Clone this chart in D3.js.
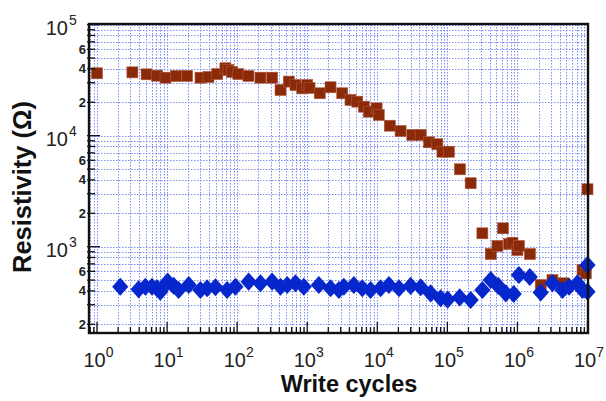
<!DOCTYPE html>
<html><head><meta charset="utf-8">
<script src="https://cdn.jsdelivr.net/npm/d3@7"></script>
<style>html,body{margin:0;padding:0;background:#fff;}svg{display:block;}</style>
</head><body>
<script>
// ---- data ----
const brownCycles = [1, 3.2, 5.1, 7.2, 9.5, 13.4, 19.3, 30, 39, 52, 68, 75, 85, 104, 145, 215, 316, 416, 546, 680, 850, 1000, 1080, 1510, 2150, 3160, 4150, 5180, 6440, 7590, 9780, 10500, 15100, 21500, 31600, 41600, 54600, 71900, 84900, 105000, 151000, 215000, 316000, 416000, 518000, 622000, 759000, 849000, 1000000, 1050000, 1510000, 2150000, 3160000, 4540000, 8490000, 9460000, 10000000];
const brownResist = [36500, 37200, 35700, 34700, 33300, 34500, 34500, 33300, 33800, 35900, 40500, 39000, 37500, 35900, 34500, 33300, 33300, 25800, 30700, 28600, 26700, 28600, 26900, 24100, 27300, 24100, 21000, 20250, 18250, 16450, 17650, 15360, 12300, 11020, 10150, 10150, 8720, 8370, 7170, 7170, 4980, 3730, 1320, 859, 1015, 1465, 1057, 1086, 934, 1015, 859, 452, 501, 468, 617, 575, 3290];
const blueCycles = [2.15, 3.93, 4.9, 6.1, 7.2, 8.0, 8.9, 10.2, 12.4, 14.6, 20.4, 29.9, 37.3, 49, 72, 94.6, 146, 215, 316, 416, 518, 680, 894, 1465, 2154, 2830, 3330, 4630, 6100, 8020, 11150, 14650, 20400, 29900, 41600, 57700, 80200, 101000, 150000, 215000, 316000, 416000, 532000, 681000, 885000, 1050000, 1500000, 2150000, 3160000, 4400000, 5460000, 7200000, 8500000, 10000000, 10000000];
const blueResist = [436, 413, 436, 436, 422, 393, 436, 484, 445, 407, 452, 407, 422, 431, 407, 436, 484, 468, 484, 436, 452, 468, 436, 452, 422, 407, 436, 452, 422, 407, 422, 452, 422, 443, 431, 380, 343, 334, 349, 331, 407, 501, 443, 380, 375, 556, 533, 387, 468, 407, 436, 468, 407, 684, 393];
const xDecades = [0, 1, 2, 3, 4, 5, 6, 7];
const yDecades = [3, 4, 5];
const yMinorLabels = ["6", "4", "2"];
const xTitle = "Write cycles";
const yTitle = "Resistivity (Ω)";

// ---- layout ----
const W = 606, H = 401;
const L = 89, R = 588, T = 24, B = 333;
const svg = d3.select("body").append("svg").attr("width", W).attr("height", H);

const x = d3.scaleLog().domain([Math.pow(10, -0.114), Math.pow(10, 7.007)]).range([L, R]);
const y = d3.scaleLog().domain([Math.pow(10, 2.2225), Math.pow(10, 5.006)]).range([B, T]);

// gridline values: 1..9 * 10^k within domain
const xGrid = [], yGrid = [];
for (let k = -1; k <= 7; k++) for (let m = 1; m <= 9; m++) {
  const v = m * Math.pow(10, k);
  if (v >= x.domain()[0] && v <= x.domain()[1]) xGrid.push({v, major: m === 1});
}
for (let k = 2; k <= 5; k++) for (let m = 1; m <= 9; m++) {
  const v = m * Math.pow(10, k);
  if (v >= y.domain()[0] && v <= y.domain()[1]) yGrid.push({v, major: m === 1, m});
}

const grid = svg.append("g").attr("stroke", "#5f72f0").attr("stroke-width", 1)
  .attr("stroke-dasharray", "1.5,1.5").attr("opacity", 0.8);
grid.selectAll(".gx").data(xGrid).join("line")
  .attr("x1", d => Math.round(x(d.v)) + 0.5).attr("x2", d => Math.round(x(d.v)) + 0.5)
  .attr("y1", T).attr("y2", B);
grid.selectAll(".gy").data(yGrid).join("line")
  .attr("y1", d => Math.round(y(d.v)) + 0.5).attr("y2", d => Math.round(y(d.v)) + 0.5)
  .attr("x1", L).attr("x2", R);

// ---- marks ----
const brown = brownCycles.map((c, i) => ({c, r: brownResist[i]}));
const blue = blueCycles.map((c, i) => ({c, r: blueResist[i]}));

svg.append("g").selectAll("rect").data(brown).join("rect")
  .attr("x", d => x(d.c) - 5.5).attr("y", d => y(d.r) - 5.5)
  .attr("width", 11).attr("height", 11)
  .attr("fill", "#8a2a08").attr("stroke", "#b0583a").attr("stroke-width", 0.6);

const diamond = d3.symbol().type(d3.symbolDiamond).size(95);
svg.append("g").selectAll("path").data(blue).join("path")
  .attr("d", diamond)
  .attr("transform", d => `translate(${x(d.c)},${y(d.r)}) scale(1.55,1)`)
  .attr("fill", "#0627cc");

// ---- ticks ----
const ticks = svg.append("g").attr("stroke", "#111").attr("stroke-width", 1.3);
ticks.selectAll(".tx").data(xGrid).join("line")
  .attr("x1", d => x(d.v)).attr("x2", d => x(d.v))
  .attr("y1", B).attr("y2", d => B - (d.major ? 11 : 6));
ticks.selectAll(".ty").data(yGrid).join("line")
  .attr("y1", d => y(d.v)).attr("y2", d => y(d.v))
  .attr("x1", L - 2).attr("x2", d => L + (d.major ? 11 : 6));

// frame
svg.append("rect").attr("x", L).attr("y", T).attr("width", R - L).attr("height", B - T)
  .attr("fill", "none").attr("stroke", "#111").attr("stroke-width", 2.4);

// ---- tick labels ----
const font = "'Liberation Sans', Arial, Helvetica, sans-serif";
const xl = svg.append("g").attr("font-family", font).attr("fill", "#222");
xDecades.forEach(k => {
  const t = xl.append("text").attr("x", x(Math.pow(10, k)) - 13.5).attr("y", 367)
    .attr("font-size", 20);
  t.append("tspan").text("10");
  t.append("tspan").attr("dy", -10).attr("font-size", 14).text(k);
});
const yl = svg.append("g").attr("font-family", font).attr("fill", "#222");
yDecades.forEach(k => {
  yl.append("text").attr("x", 68).attr("y", y(Math.pow(10, k)) + 10.5)
    .attr("text-anchor", "end").attr("font-size", 20).text("10");
  yl.append("text").attr("x", 69).attr("y", y(Math.pow(10, k)) + 0.5)
    .attr("font-size", 14).text(k);
});
yGrid.filter(d => yMinorLabels.includes(String(d.m)) && !d.major).forEach(d => {
  yl.append("text").attr("x", 86).attr("y", y(d.v) + 4.5).attr("text-anchor", "end")
    .attr("font-size", 13).attr("font-weight", "bold").text(d.m);
});

// ---- titles ----
svg.append("text").attr("x", 349).attr("y", 392).attr("text-anchor", "middle")
  .attr("font-family", font).attr("font-weight", "bold").attr("font-size", 23.5)
  .attr("fill", "#111").text(xTitle);
svg.append("text").attr("transform", "translate(31,187) rotate(-90)").attr("text-anchor", "middle")
  .attr("font-family", font).attr("font-weight", "bold").attr("font-size", 25.5)
  .attr("fill", "#111").text(yTitle);
</script>
</body></html>
